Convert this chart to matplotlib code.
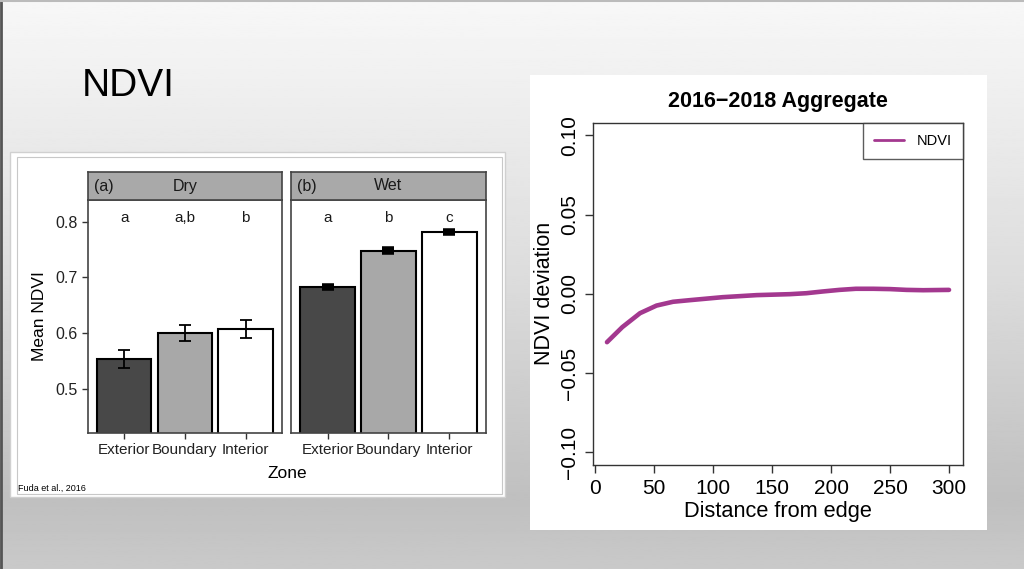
import numpy as np
import matplotlib
matplotlib.use("Agg")
import matplotlib.pyplot as plt
from matplotlib.patches import Rectangle

W, H = 1024, 569

# left figure (Fuda et al.)
zones = ["Exterior", "Boundary", "Interior"]
dry_mean = [0.553, 0.600, 0.607]
dry_err = [0.016, 0.014, 0.017]
wet_mean = [0.682, 0.748, 0.781]
wet_err = [0.002, 0.002, 0.002]
dry_letters = ["a", "a,b", "b"]
wet_letters = ["a", "b", "c"]
bar_colors = ["#484848", "#a8a8a8", "#ffffff"]

# right figure (edge curve)
dist = [10, 23, 38, 52, 66, 80, 108, 137, 165, 179, 193, 207, 221, 236, 250, 264, 278, 300]
ndvi_dev = [-0.0305, -0.021, -0.0122, -0.0074, -0.005, -0.004, -0.0021, -0.0008,
            -0.0002, 0.0004, 0.0015, 0.0025, 0.0032, 0.0032, 0.003, 0.0025, 0.0023, 0.0025]

plt.rcParams["font.family"] = ["Liberation Sans", "DejaVu Sans"]

fig = plt.figure(figsize=(W / 100, H / 100), dpi=100)


def px_axes(x0, y0, x1, y1, **kw):
    return fig.add_axes([x0 / W, 1 - y1 / H, (x1 - x0) / W, (y1 - y0) / H], **kw)


# slide background gradient
bg = px_axes(0, 0, W, H)
rows = np.linspace(0, 1, 300)
shade = np.interp(rows, [0, 0.1, 0.5, 0.88, 1.0], [0.97, 0.95, 0.86, 0.75, 0.79])
bg.imshow(shade[:, None], cmap="gray", vmin=0, vmax=1, aspect="auto",
          extent=[0, 1, 0, 1], origin="upper")
bg.plot([0.001, 0.001], [0, 1], color="#555555", lw=2)
bg.plot([0, 1], [0.999, 0.999], color="#bbbbbb", lw=1.5)
bg.set_xlim(0, 1)
bg.set_ylim(0, 1)
bg.axis("off")

fig.text(82 / W, 1 - 86 / H, "NDVI", fontsize=28, va="center", ha="left",
         family=["Liberation Sans Narrow", "Liberation Sans"])

# white boxes behind both pictures
bg.add_patch(Rectangle((10 / W, 1 - 497 / H), 495 / W, 345 / H,
                       facecolor="white", edgecolor="#d0d0d0", lw=1))
bg.add_patch(Rectangle((17 / W, 1 - 494 / H), 485 / W, 337 / H,
                       facecolor="none", edgecolor="#c8c8c8", lw=0.8))
bg.add_patch(Rectangle((530 / W, 1 - 530 / H), 457 / W, 455 / H,
                       facecolor="white", edgecolor="none"))

# ---- faceted bar chart ----
panels = [
    (87.7, 282, "(a)", "Dry", dry_mean, dry_err, dry_letters),
    (291, 485.7, "(b)", "Wet", wet_mean, wet_err, wet_letters),
]
for i, (x0, x1, tag, name, mean, err, letters) in enumerate(panels):
    ax = px_axes(x0, 200, x1, 433)
    xs = np.arange(1, len(zones) + 1)
    ax.bar(xs, mean, width=0.9, color=bar_colors, edgecolor="black", lw=1.5, zorder=2)
    ax.errorbar(xs, mean, yerr=err, fmt="none", ecolor="black",
                elinewidth=1.3 if i == 0 else 2.5, capsize=4.5 if i == 0 else 4.5,
                capthick=1.3 if i == 0 else 4, zorder=3)
    for x, lab in zip(xs, letters):
        ax.text(x, 0.807, lab, ha="center", va="center", fontsize=11, color="#1a1a1a")
    ax.set_xlim(0.4, 3.6)
    ax.set_ylim(0.42, 0.839)
    ax.set_xticks(xs)
    ax.set_xticklabels(zones, fontsize=11, color="#222222")
    ax.set_yticks([0.5, 0.6, 0.7, 0.8])
    if i == 0:
        ax.set_yticklabels(["0.5", "0.6", "0.7", "0.8"], fontsize=11.5, color="#222222")
        ax.set_ylabel("Mean NDVI", fontsize=12.5, labelpad=6)
    else:
        ax.tick_params(axis="y", left=False, labelleft=False)
    ax.tick_params(axis="both", length=4, width=1, color="#333333", pad=3)
    for s in ax.spines.values():
        s.set_color("#444444")
        s.set_linewidth(1.2)

    strip = px_axes(x0, 172, x1, 200)
    strip.set_facecolor("#a9a9a9")
    strip.set_xticks([])
    strip.set_yticks([])
    for s in strip.spines.values():
        s.set_color("#444444")
        s.set_linewidth(1.2)
    strip.text(0.03, 0.5, tag, transform=strip.transAxes, ha="left", va="center",
               fontsize=11.5, color="#1a1a1a")
    strip.text(0.5, 0.5, name, transform=strip.transAxes, ha="center", va="center",
               fontsize=11.5, color="#1a1a1a")

fig.text(287 / W, 1 - 474 / H, "Zone", ha="center", va="center", fontsize=12.5)
fig.text(18 / W, 1 - 488 / H, "Fuda et al., 2016", ha="left", va="center", fontsize=6.5,
         family=["Liberation Sans Narrow", "Liberation Sans"])

# ---- edge curve ----
ax2 = px_axes(593.3, 122.7, 962.7, 465)
ax2.plot(dist, ndvi_dev, color="#a3388f", lw=3.3, solid_capstyle="round", label="NDVI")
ax2.set_xlim(-1.6, 311.6)
ax2.set_ylim(-0.108, 0.108)
ax2.set_xticks([0, 50, 100, 150, 200, 250, 300])
ax2.set_xticklabels(["0", "50", "100", "150", "200", "250", "300"], fontsize=15)
yt = [-0.10, -0.05, 0.0, 0.05, 0.10]
ax2.set_yticks(yt)
ax2.set_yticklabels(["\u22120.10", "\u22120.05", "0.00", "0.05", "0.10"], fontsize=15,
                    rotation=90, va="center")
ax2.tick_params(axis="both", length=6, width=1, color="#333333", pad=4)
for s in ax2.spines.values():
    s.set_color("#333333")
    s.set_linewidth(1)
ax2.set_xlabel("Distance from edge", fontsize=15.7, labelpad=2)
ax2.set_ylabel("NDVI deviation", fontsize=15.5, labelpad=4)
ax2.set_title("2016\u22122018 Aggregate", fontsize=15.5, fontweight="bold", pad=11)
leg = ax2.legend(loc="upper right", fontsize=10.5, frameon=True, fancybox=False,
                 borderaxespad=0, handlelength=2.0, borderpad=0.75, handletextpad=0.9)
leg.get_frame().set_edgecolor("#333333")
leg.get_frame().set_linewidth(1)
for ln in leg.get_lines():
    ln.set_linewidth(2)

fig.savefig("out.png", dpi=100)
